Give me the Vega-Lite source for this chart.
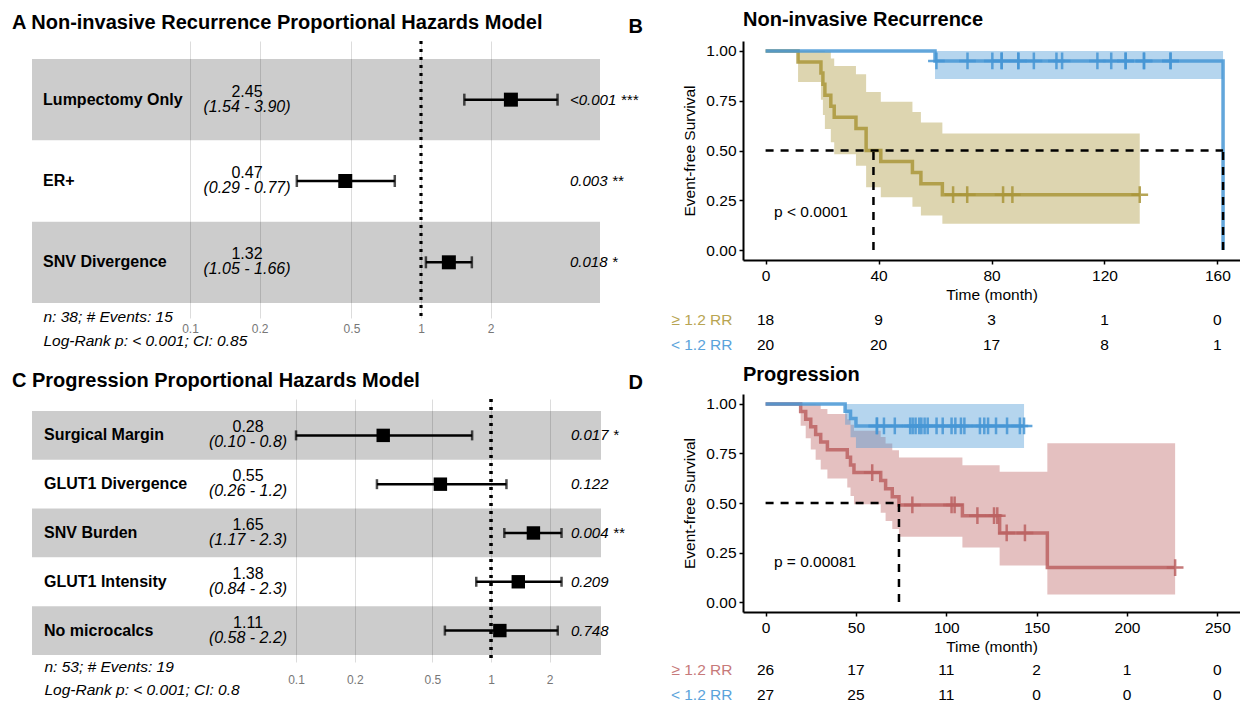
{
  "$schema": "https://vega.github.io/schema/vega-lite/v6.json",
  "padding": {"left": 12, "top": 10, "right": 0, "bottom": 0},
  "background": "white",
  "config": {
    "font": "Liberation Sans",
    "view": {"stroke": null},
    "title": {"fontSize": 20, "fontWeight": "bold", "color": "black", "anchor": "start", "font": "Liberation Sans"},
    "axis": {"domainColor": "black", "domainWidth": 2, "tickColor": "black", "tickWidth": 1.5, "tickSize": 4, "labelFontSize": 15.5, "labelColor": "black", "titleFontSize": 15.5, "titleFontWeight": "normal", "titleColor": "black", "grid": false, "labelFont": "Liberation Sans", "titleFont": "Liberation Sans"}
  },
  "datasets": {
    "forestA": [
      {"row": 1, "label": "Lumpectomy Only", "hr": 2.45, "lo": 1.54, "hi": 3.90, "hrText": "2.45", "ciText": "(1.54 - 3.90)", "pText": "<0.001 ***"},
      {"row": 2, "label": "ER+", "hr": 0.47, "lo": 0.29, "hi": 0.77, "hrText": "0.47", "ciText": "(0.29 - 0.77)", "pText": "0.003 **"},
      {"row": 3, "label": "SNV Divergence", "hr": 1.32, "lo": 1.05, "hi": 1.66, "hrText": "1.32", "ciText": "(1.05 - 1.66)", "pText": "0.018 *"}
    ],
    "forestC": [
      {"row": 1, "label": "Surgical Margin", "hr": 0.28, "lo": 0.10, "hi": 0.8, "hrText": "0.28", "ciText": "(0.10 - 0.8)", "pText": "0.017 *"},
      {"row": 2, "label": "GLUT1 Divergence", "hr": 0.55, "lo": 0.26, "hi": 1.2, "hrText": "0.55", "ciText": "(0.26 - 1.2)", "pText": "0.122"},
      {"row": 3, "label": "SNV Burden", "hr": 1.65, "lo": 1.17, "hi": 2.3, "hrText": "1.65", "ciText": "(1.17 - 2.3)", "pText": "0.004 **"},
      {"row": 4, "label": "GLUT1 Intensity", "hr": 1.38, "lo": 0.84, "hi": 2.3, "hrText": "1.38", "ciText": "(0.84 - 2.3)", "pText": "0.209"},
      {"row": 5, "label": "No microcalcs", "hr": 1.11, "lo": 0.58, "hi": 2.2, "hrText": "1.11", "ciText": "(0.58 - 2.2)", "pText": "0.748"}
    ],
    "lineB": [
      {"g": "B_hi", "t": 0, "s": 1}, {"g": "B_hi", "t": 11.5, "s": 0.9444}, {"g": "B_hi", "t": 19.6, "s": 0.8889}, {"g": "B_hi", "t": 20.3, "s": 0.8333}, {"g": "B_hi", "t": 21, "s": 0.7778}, {"g": "B_hi", "t": 23.1, "s": 0.7222}, {"g": "B_hi", "t": 24.3, "s": 0.6667}, {"g": "B_hi", "t": 32, "s": 0.6111}, {"g": "B_hi", "t": 35.6, "s": 0.5}, {"g": "B_hi", "t": 40.8, "s": 0.4444}, {"g": "B_hi", "t": 52, "s": 0.3889}, {"g": "B_hi", "t": 55, "s": 0.3333}, {"g": "B_hi", "t": 62.6, "s": 0.2778}, {"g": "B_hi", "t": 132.5, "s": 0.2778},
      {"g": "low", "t": 0, "s": 1}, {"g": "low", "t": 60, "s": 0.95}, {"g": "low", "t": 162, "s": 0}
    ],
    "bandB": [
      {"g": "B_hi", "t": 11.5, "lo": 0.844, "hi": 1}, {"g": "B_hi", "t": 19.6, "lo": 0.755, "hi": 1}, {"g": "B_hi", "t": 20.3, "lo": 0.678, "hi": 1}, {"g": "B_hi", "t": 21, "lo": 0.608, "hi": 0.996}, {"g": "B_hi", "t": 23.1, "lo": 0.542, "hi": 0.962}, {"g": "B_hi", "t": 24.3, "lo": 0.481, "hi": 0.924}, {"g": "B_hi", "t": 32, "lo": 0.423, "hi": 0.883}, {"g": "B_hi", "t": 35.6, "lo": 0.315, "hi": 0.794}, {"g": "B_hi", "t": 40.8, "lo": 0.265, "hi": 0.745}, {"g": "B_hi", "t": 52, "lo": 0.218, "hi": 0.694}, {"g": "B_hi", "t": 55, "lo": 0.173, "hi": 0.641}, {"g": "B_hi", "t": 62.6, "lo": 0.132, "hi": 0.585}, {"g": "B_hi", "t": 132.5, "lo": 0.132, "hi": 0.585},
      {"g": "low", "t": 60, "lo": 0.859, "hi": 1}, {"g": "low", "t": 162, "lo": 0.859, "hi": 1}
    ],
    "censB": [
      {"g": "B_hi", "t": 66.4, "s": 0.2778}, {"g": "B_hi", "t": 71.4, "s": 0.2778}, {"g": "B_hi", "t": 84.1, "s": 0.2778}, {"g": "B_hi", "t": 87.4, "s": 0.2778}, {"g": "B_hi", "t": 132.5, "s": 0.2778},
      {"g": "low", "t": 60.5, "s": 0.95}, {"g": "low", "t": 71.5, "s": 0.95}, {"g": "low", "t": 80.3, "s": 0.95}, {"g": "low", "t": 83.6, "s": 0.95}, {"g": "low", "t": 83.6, "s": 0.95}, {"g": "low", "t": 89.5, "s": 0.95}, {"g": "low", "t": 89.5, "s": 0.95}, {"g": "low", "t": 95, "s": 0.95}, {"g": "low", "t": 103, "s": 0.95}, {"g": "low", "t": 105, "s": 0.95}, {"g": "low", "t": 117.5, "s": 0.95}, {"g": "low", "t": 122.4, "s": 0.95}, {"g": "low", "t": 127.5, "s": 0.95}, {"g": "low", "t": 127.5, "s": 0.95}, {"g": "low", "t": 134, "s": 0.95}, {"g": "low", "t": 134, "s": 0.95}, {"g": "low", "t": 143.4, "s": 0.95}, {"g": "low", "t": 143.4, "s": 0.95}
    ],
    "medB": [
      {"t": 0, "t2": 162, "v": 0.5, "v2": 0.5}, {"t": 38.2, "t2": 38.2, "v": 0, "v2": 0.5}, {"t": 162, "t2": 162, "v": 0, "v2": 0.5}
    ],
    "riskB": [
      {"grp": "≥ 1.2 RR", "t": 0, "n": 18}, {"grp": "≥ 1.2 RR", "t": 40, "n": 9}, {"grp": "≥ 1.2 RR", "t": 80, "n": 3}, {"grp": "≥ 1.2 RR", "t": 120, "n": 1}, {"grp": "≥ 1.2 RR", "t": 160, "n": 0},
      {"grp": "< 1.2 RR", "t": 0, "n": 20}, {"grp": "< 1.2 RR", "t": 40, "n": 20}, {"grp": "< 1.2 RR", "t": 80, "n": 17}, {"grp": "< 1.2 RR", "t": 120, "n": 8}, {"grp": "< 1.2 RR", "t": 160, "n": 1}
    ],
    "lineD": [
      {"g": "D_hi", "t": 0, "s": 1}, {"g": "D_hi", "t": 19.4, "s": 0.9615}, {"g": "D_hi", "t": 22.2, "s": 0.9231}, {"g": "D_hi", "t": 25, "s": 0.8846}, {"g": "D_hi", "t": 27.7, "s": 0.8462}, {"g": "D_hi", "t": 30.5, "s": 0.8077}, {"g": "D_hi", "t": 34.2, "s": 0.7692}, {"g": "D_hi", "t": 45.2, "s": 0.7308}, {"g": "D_hi", "t": 47, "s": 0.6923}, {"g": "D_hi", "t": 48.9, "s": 0.6538}, {"g": "D_hi", "t": 63.7, "s": 0.613}, {"g": "D_hi", "t": 66.4, "s": 0.5721}, {"g": "D_hi", "t": 70.1, "s": 0.5312}, {"g": "D_hi", "t": 73.8, "s": 0.4904}, {"g": "D_hi", "t": 108.9, "s": 0.4359}, {"g": "D_hi", "t": 129.5, "s": 0.3487}, {"g": "D_hi", "t": 155.9, "s": 0.1744}, {"g": "D_hi", "t": 226.6, "s": 0.1744},
      {"g": "low", "t": 0, "s": 1}, {"g": "low", "t": 44, "s": 0.963}, {"g": "low", "t": 47, "s": 0.9259}, {"g": "low", "t": 50, "s": 0.8889}, {"g": "low", "t": 143, "s": 0.8889}
    ],
    "bandD": [
      {"g": "D_hi", "t": 19.4, "lo": 0.8903, "hi": 1}, {"g": "D_hi", "t": 22.2, "lo": 0.8261, "hi": 1}, {"g": "D_hi", "t": 25, "lo": 0.770, "hi": 1}, {"g": "D_hi", "t": 27.7, "lo": 0.7182, "hi": 0.9968}, {"g": "D_hi", "t": 30.5, "lo": 0.6696, "hi": 0.9743}, {"g": "D_hi", "t": 34.2, "lo": 0.6232, "hi": 0.9495}, {"g": "D_hi", "t": 45.2, "lo": 0.5787, "hi": 0.9228}, {"g": "D_hi", "t": 47, "lo": 0.5358, "hi": 0.8945}, {"g": "D_hi", "t": 48.9, "lo": 0.4943, "hi": 0.8648}, {"g": "D_hi", "t": 63.7, "lo": 0.451, "hi": 0.8333}, {"g": "D_hi", "t": 66.4, "lo": 0.4091, "hi": 0.8001}, {"g": "D_hi", "t": 70.1, "lo": 0.3686, "hi": 0.7656}, {"g": "D_hi", "t": 73.8, "lo": 0.3294, "hi": 0.73}, {"g": "D_hi", "t": 108.9, "lo": 0.2752, "hi": 0.6905}, {"g": "D_hi", "t": 129.5, "lo": 0.1847, "hi": 0.6583}, {"g": "D_hi", "t": 155.9, "lo": 0.038, "hi": 0.8012}, {"g": "D_hi", "t": 226.6, "lo": 0.038, "hi": 0.8012},
      {"g": "low", "t": 44, "lo": 0.8943, "hi": 1}, {"g": "low", "t": 47, "lo": 0.8322, "hi": 1}, {"g": "low", "t": 50, "lo": 0.778, "hi": 1}, {"g": "low", "t": 143, "lo": 0.778, "hi": 1}
    ],
    "censD": [
      {"g": "D_hi", "t": 59, "s": 0.6538}, {"g": "D_hi", "t": 81.2, "s": 0.4904}, {"g": "D_hi", "t": 102.9, "s": 0.4904}, {"g": "D_hi", "t": 104.6, "s": 0.4904}, {"g": "D_hi", "t": 117.2, "s": 0.4359}, {"g": "D_hi", "t": 126.4, "s": 0.4359}, {"g": "D_hi", "t": 128.2, "s": 0.4359}, {"g": "D_hi", "t": 133.4, "s": 0.3487}, {"g": "D_hi", "t": 143.5, "s": 0.3487}, {"g": "D_hi", "t": 226.6, "s": 0.1744},
      {"g": "low", "t": 61.6, "s": 0.8889}, {"g": "low", "t": 61.6, "s": 0.8889}, {"g": "low", "t": 65.5, "s": 0.8889}, {"g": "low", "t": 71.5, "s": 0.8889}, {"g": "low", "t": 80, "s": 0.8889}, {"g": "low", "t": 81.4, "s": 0.8889}, {"g": "low", "t": 83, "s": 0.8889}, {"g": "low", "t": 85, "s": 0.8889}, {"g": "low", "t": 86.2, "s": 0.8889}, {"g": "low", "t": 88, "s": 0.8889}, {"g": "low", "t": 89.7, "s": 0.8889}, {"g": "low", "t": 94.6, "s": 0.8889}, {"g": "low", "t": 98, "s": 0.8889}, {"g": "low", "t": 102.9, "s": 0.8889}, {"g": "low", "t": 105, "s": 0.8889}, {"g": "low", "t": 108.1, "s": 0.8889}, {"g": "low", "t": 110, "s": 0.8889}, {"g": "low", "t": 118.6, "s": 0.8889}, {"g": "low", "t": 121, "s": 0.8889}, {"g": "low", "t": 123.1, "s": 0.8889}, {"g": "low", "t": 127.5, "s": 0.8889}, {"g": "low", "t": 133.6, "s": 0.8889}, {"g": "low", "t": 140.7, "s": 0.8889}, {"g": "low", "t": 143, "s": 0.8889}
    ],
    "medD": [
      {"t": 0, "t2": 73.8, "v": 0.5, "v2": 0.5}, {"t": 73.8, "t2": 73.8, "v": 0, "v2": 0.5}
    ],
    "riskD": [
      {"grp": "≥ 1.2 RR", "t": 0, "n": 26}, {"grp": "≥ 1.2 RR", "t": 50, "n": 17}, {"grp": "≥ 1.2 RR", "t": 100, "n": 11}, {"grp": "≥ 1.2 RR", "t": 150, "n": 2}, {"grp": "≥ 1.2 RR", "t": 200, "n": 1}, {"grp": "≥ 1.2 RR", "t": 250, "n": 0},
      {"grp": "< 1.2 RR", "t": 0, "n": 27}, {"grp": "< 1.2 RR", "t": 50, "n": 25}, {"grp": "< 1.2 RR", "t": 100, "n": 11}, {"grp": "< 1.2 RR", "t": 150, "n": 0}, {"grp": "< 1.2 RR", "t": 200, "n": 0}, {"grp": "< 1.2 RR", "t": 250, "n": 0}
    ]
  },
  "hconcat": [
    {
      "spacing": 21,
      "vconcat": [
        {
          "width": 568, "height": 277,
          "data": {"name": "forestA"},
          "title": {"text": "A  Non-invasive Recurrence Proportional Hazards Model", "anchor": "start", "frame": "bounds", "dx": -20, "dy": 1, "offset": -8, "baseline": "alphabetic"},
          "layer": [
            {"mark": {"type": "rect", "color": "black"},
             "encoding": {"y": {"field": "label", "type": "nominal", "sort": null, "scale": {"type": "band", "paddingInner": 0, "paddingOuter": 0.203, "align": 0.545}, "axis": null},
                          "opacity": {"condition": {"test": "datum.row % 2 == 1", "value": 0.2}, "value": 0}}},
            {"mark": {"type": "rule", "strokeDash": [3, 5], "strokeWidth": 2.5, "color": "black"},
             "encoding": {"x": {"datum": 1, "type": "quantitative", "scale": {"type": "log", "domain": [0.0207, 5.955], "nice": false}, "axis": {"values": [0.1, 0.2, 0.5, 1, 2], "format": "~g", "domain": false, "ticks": false, "grid": true, "gridColor": "#dcdcdc", "gridWidth": 1, "labelFontSize": 12, "labelColor": "#777777", "labelPadding": 5, "title": ["n: 38; # Events: 15", "Log-Rank p: < 0.001; CI: 0.85"], "titleFontSize": 15.5, "titleFontStyle": "italic", "titleFontWeight": "normal", "titleColor": "black", "titleAnchor": "start", "titleAlign": "left", "titleBaseline": "top", "titleX": 11, "titleY": -9, "titleLineHeight": 24}}}},
            {"mark": {"type": "rule", "strokeWidth": 2.5, "color": "black"},
             "encoding": {"x": {"field": "lo", "type": "quantitative", "scale": {"type": "log", "domain": [0.0207, 5.955], "nice": false}}, "x2": {"field": "hi"}, "y": {"field": "label", "type": "nominal", "sort": null}}},
            {"mark": {"type": "tick", "orient": "vertical", "size": 12, "thickness": 2.5, "color": "black"},
             "encoding": {"x": {"field": "lo", "type": "quantitative"}, "y": {"field": "label", "type": "nominal", "sort": null}}},
            {"mark": {"type": "tick", "orient": "vertical", "size": 12, "thickness": 2.5, "color": "black"},
             "encoding": {"x": {"field": "hi", "type": "quantitative"}, "y": {"field": "label", "type": "nominal", "sort": null}}},
            {"mark": {"type": "square", "size": 196, "color": "black", "opacity": 1},
             "encoding": {"x": {"field": "hr", "type": "quantitative"}, "y": {"field": "label", "type": "nominal", "sort": null}}},
            {"mark": {"type": "text", "align": "left", "fontWeight": "bold", "fontSize": 16, "color": "black"},
             "encoding": {"x": {"datum": 0.02312, "type": "quantitative"}, "y": {"field": "label", "type": "nominal", "sort": null}, "text": {"field": "label"}}},
            {"mark": {"type": "text", "align": "center", "fontSize": 16, "color": "black", "dy": -8},
             "encoding": {"x": {"datum": 0.1765, "type": "quantitative"}, "y": {"field": "label", "type": "nominal", "sort": null}, "text": {"field": "hrText"}}},
            {"mark": {"type": "text", "align": "center", "fontSize": 16, "fontStyle": "italic", "color": "black", "dy": 7},
             "encoding": {"x": {"datum": 0.1765, "type": "quantitative"}, "y": {"field": "label", "type": "nominal", "sort": null}, "text": {"field": "ciText"}}},
            {"mark": {"type": "text", "align": "left", "fontSize": 15, "fontStyle": "italic", "color": "black"},
             "encoding": {"x": {"datum": 4.416, "type": "quantitative"}, "y": {"field": "label", "type": "nominal", "sort": null}, "text": {"field": "pText"}}}
          ]
        },
        {
          "width": 569, "height": 263,
          "data": {"name": "forestC"},
          "title": {"text": "C  Progression Proportional Hazards Model", "anchor": "start", "frame": "bounds", "dx": -20, "offset": -9, "baseline": "alphabetic"},
          "layer": [
            {"mark": {"type": "rect", "color": "black"},
             "encoding": {"y": {"field": "label", "type": "nominal", "sort": null, "scale": {"type": "band", "paddingInner": 0, "paddingOuter": 0.195, "align": 0.63}, "axis": null},
                          "opacity": {"condition": {"test": "datum.row % 2 == 1", "value": 0.2}, "value": 0}}},
            {"mark": {"type": "rule", "strokeDash": [3, 5], "strokeWidth": 2.5, "color": "black"},
             "encoding": {"x": {"datum": 1, "type": "quantitative", "scale": {"type": "log", "domain": [0.004425, 3.665], "nice": false}, "axis": {"values": [0.1, 0.2, 0.5, 1, 2], "format": "~g", "domain": false, "ticks": false, "grid": true, "gridColor": "#dcdcdc", "gridWidth": 1, "labelFontSize": 12, "labelColor": "#777777", "labelPadding": 12, "title": ["n: 53; # Events: 19", "Log-Rank p: < 0.001; CI: 0.8"], "titleFontSize": 15.5, "titleFontStyle": "italic", "titleFontWeight": "normal", "titleColor": "black", "titleAnchor": "start", "titleAlign": "left", "titleBaseline": "top", "titleX": 12, "titleY": -3, "titleLineHeight": 23}}}},
            {"mark": {"type": "rule", "strokeWidth": 2.5, "color": "black"},
             "encoding": {"x": {"field": "lo", "type": "quantitative", "scale": {"type": "log", "domain": [0.004425, 3.665], "nice": false}}, "x2": {"field": "hi"}, "y": {"field": "label", "type": "nominal", "sort": null}}},
            {"mark": {"type": "tick", "orient": "vertical", "size": 10, "thickness": 2.5, "color": "black"},
             "encoding": {"x": {"field": "lo", "type": "quantitative"}, "y": {"field": "label", "type": "nominal", "sort": null}}},
            {"mark": {"type": "tick", "orient": "vertical", "size": 10, "thickness": 2.5, "color": "black"},
             "encoding": {"x": {"field": "hi", "type": "quantitative"}, "y": {"field": "label", "type": "nominal", "sort": null}}},
            {"mark": {"type": "square", "size": 180, "color": "black", "opacity": 1},
             "encoding": {"x": {"field": "hr", "type": "quantitative"}, "y": {"field": "label", "type": "nominal", "sort": null}}},
            {"mark": {"type": "text", "align": "left", "fontWeight": "bold", "fontSize": 16, "color": "black"},
             "encoding": {"x": {"datum": 0.005101, "type": "quantitative"}, "y": {"field": "label", "type": "nominal", "sort": null}, "text": {"field": "label"}}},
            {"mark": {"type": "text", "align": "center", "fontSize": 16, "color": "black", "dy": -8},
             "encoding": {"x": {"datum": 0.05674, "type": "quantitative"}, "y": {"field": "label", "type": "nominal", "sort": null}, "text": {"field": "hrText"}}},
            {"mark": {"type": "text", "align": "center", "fontSize": 16, "fontStyle": "italic", "color": "black", "dy": 7},
             "encoding": {"x": {"datum": 0.05674, "type": "quantitative"}, "y": {"field": "label", "type": "nominal", "sort": null}, "text": {"field": "ciText"}}},
            {"mark": {"type": "text", "align": "left", "fontSize": 15, "fontStyle": "italic", "color": "black"},
             "encoding": {"x": {"datum": 2.57, "type": "quantitative"}, "y": {"field": "label", "type": "nominal", "sort": null}, "text": {"field": "pText"}}}
          ]
        }
      ]
    },
    {
      "spacing": 8,
      "vconcat": [
        {
          "title": {"text": "B", "anchor": "start", "frame": "bounds", "dx": -42, "offset": -43, "baseline": "alphabetic"},
          "spacing": 4,
          "vconcat": [
            {
              "width": 497, "height": 219,
              "title": {"text": "Non-invasive Recurrence", "anchor": "start", "frame": "group", "offset": -5, "baseline": "alphabetic"},
              "layer": [
                {"data": {"name": "bandB"}, "mark": {"type": "area", "interpolate": "step-after", "opacity": 0.4},
                 "encoding": {
                   "x": {"field": "t", "type": "quantitative", "scale": {"domain": [-8, 168], "nice": false, "zero": false}, "axis": {"values": [0, 40, 80, 120, 160], "title": "Time (month)", "labelPadding": 4, "titlePadding": 4}},
                   "y": {"field": "lo", "type": "quantitative", "stack": null, "scale": {"domain": [-0.05, 1.05], "nice": false, "zero": false}, "axis": {"values": [0, 0.25, 0.5, 0.75, 1], "format": ".2f", "title": "Event-free Survival", "labelPadding": 3, "titlePadding": 8}},
                   "y2": {"field": "hi"},
                   "color": {"field": "g", "type": "nominal", "scale": {"domain": ["B_hi", "low", "D_hi"], "range": ["#AA963A", "#4696D5", "#BC6262"]}, "legend": null}}},
                {"data": {"name": "lineB"}, "mark": {"type": "line", "interpolate": "step-after", "strokeWidth": 3.5, "opacity": 0.85},
                 "encoding": {
                   "x": {"field": "t", "type": "quantitative", "title": "Time (month)"},
                   "y": {"field": "s", "type": "quantitative", "title": "Event-free Survival"},
                   "color": {"field": "g", "type": "nominal", "legend": null}}},
                {"data": {"name": "censB"}, "mark": {"type": "point", "shape": "M-1,0H1M0,-1V1", "filled": false, "size": 280, "strokeWidth": 2.5, "opacity": 0.85},
                 "encoding": {
                   "x": {"field": "t", "type": "quantitative", "title": "Time (month)"},
                   "y": {"field": "s", "type": "quantitative", "title": "Event-free Survival"},
                   "color": {"field": "g", "type": "nominal", "legend": null}}},
                {"data": {"name": "medB"}, "mark": {"type": "rule", "strokeDash": [8, 7], "strokeWidth": 2.5, "color": "black"},
                 "encoding": {
                   "x": {"field": "t", "type": "quantitative", "title": "Time (month)"}, "x2": {"field": "t2"},
                   "y": {"field": "v", "type": "quantitative", "title": "Event-free Survival"}, "y2": {"field": "v2"}}},
                {"data": {"values": [{}]}, "mark": {"type": "text", "text": "p < 0.0001", "align": "left", "fontSize": 15.5, "color": "black"},
                 "encoding": {"x": {"datum": 3, "type": "quantitative", "title": "Time (month)"}, "y": {"datum": 0.19, "type": "quantitative", "title": "Event-free Survival"}}}
              ]
            },
            {
              "width": 497, "height": 50,
              "data": {"name": "riskB"},
              "mark": {"type": "text", "fontSize": 15.5, "color": "black"},
              "encoding": {
                "x": {"field": "t", "type": "quantitative", "scale": {"domain": [-8, 168], "nice": false, "zero": false}, "axis": null},
                "y": {"field": "grp", "type": "nominal", "sort": ["≥ 1.2 RR", "< 1.2 RR"], "axis": {"title": null, "domain": false, "ticks": false, "labelPadding": 11, "labelFontSize": 15.5, "labelColor": {"condition": {"test": "datum.value == '≥ 1.2 RR'", "value": "#B8A552"}, "value": "#5AA3DB"}}},
                "text": {"field": "n"}
              }
            }
          ]
        },
        {
          "title": {"text": "D", "anchor": "start", "frame": "bounds", "dx": -42, "offset": -44, "baseline": "alphabetic"},
          "spacing": 2,
          "vconcat": [
            {
              "width": 497, "height": 218,
              "title": {"text": "Progression", "anchor": "start", "frame": "group", "offset": -7, "baseline": "alphabetic"},
              "layer": [
                {"data": {"name": "bandD"}, "mark": {"type": "area", "interpolate": "step-after", "opacity": 0.4},
                 "encoding": {
                   "x": {"field": "t", "type": "quantitative", "scale": {"domain": [-12.5, 262.5], "nice": false, "zero": false}, "axis": {"values": [0, 50, 100, 150, 200, 250], "title": "Time (month)", "labelPadding": 4, "titlePadding": 4}},
                   "y": {"field": "lo", "type": "quantitative", "stack": null, "scale": {"domain": [-0.05, 1.05], "nice": false, "zero": false}, "axis": {"values": [0, 0.25, 0.5, 0.75, 1], "format": ".2f", "title": "Event-free Survival", "labelPadding": 3, "titlePadding": 8}},
                   "y2": {"field": "hi"},
                   "color": {"field": "g", "type": "nominal", "scale": {"domain": ["B_hi", "low", "D_hi"], "range": ["#AA963A", "#4696D5", "#BC6262"]}, "legend": null}}},
                {"data": {"name": "lineD"}, "mark": {"type": "line", "interpolate": "step-after", "strokeWidth": 3.5, "opacity": 0.85},
                 "encoding": {
                   "x": {"field": "t", "type": "quantitative", "title": "Time (month)"},
                   "y": {"field": "s", "type": "quantitative", "title": "Event-free Survival"},
                   "color": {"field": "g", "type": "nominal", "legend": null}}},
                {"data": {"name": "censD"}, "mark": {"type": "point", "shape": "M-1,0H1M0,-1V1", "filled": false, "size": 280, "strokeWidth": 2.5, "opacity": 0.85},
                 "encoding": {
                   "x": {"field": "t", "type": "quantitative", "title": "Time (month)"},
                   "y": {"field": "s", "type": "quantitative", "title": "Event-free Survival"},
                   "color": {"field": "g", "type": "nominal", "legend": null}}},
                {"data": {"name": "medD"}, "mark": {"type": "rule", "strokeDash": [8, 7], "strokeWidth": 2.5, "color": "black"},
                 "encoding": {
                   "x": {"field": "t", "type": "quantitative", "title": "Time (month)"}, "x2": {"field": "t2"},
                   "y": {"field": "v", "type": "quantitative", "title": "Event-free Survival"}, "y2": {"field": "v2"}}},
                {"data": {"values": [{}]}, "mark": {"type": "text", "text": "p = 0.00081", "align": "left", "fontSize": 15.5, "color": "black"},
                 "encoding": {"x": {"datum": 4.6, "type": "quantitative", "title": "Time (month)"}, "y": {"datum": 0.2, "type": "quantitative", "title": "Event-free Survival"}}}
              ]
            },
            {
              "width": 497, "height": 50,
              "data": {"name": "riskD"},
              "mark": {"type": "text", "fontSize": 15.5, "color": "black"},
              "encoding": {
                "x": {"field": "t", "type": "quantitative", "scale": {"domain": [-12.5, 262.5], "nice": false, "zero": false}, "axis": null},
                "y": {"field": "grp", "type": "nominal", "sort": ["≥ 1.2 RR", "< 1.2 RR"], "axis": {"title": null, "domain": false, "ticks": false, "labelPadding": 11, "labelFontSize": 15.5, "labelColor": {"condition": {"test": "datum.value == '≥ 1.2 RR'", "value": "#C77A7A"}, "value": "#5AA3DB"}}},
                "text": {"field": "n"}
              }
            }
          ]
        }
      ]
    }
  ],
  "spacing": -10
}
